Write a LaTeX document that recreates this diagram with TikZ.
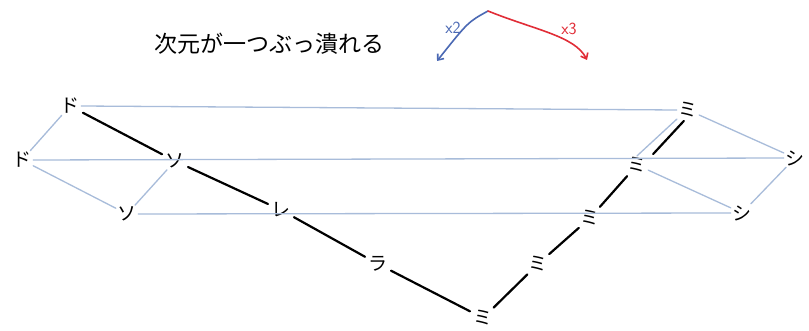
\documentclass[tikz,border=0pt]{standalone}
\usepackage{fontspec}
\newfontfamily\jp{Noto Sans CJK JP}
\usetikzlibrary{arrows.meta}
\definecolor{lineblue}{RGB}{168,188,218}
\definecolor{penblue}{RGB}{75,105,180}
\definecolor{penred}{RGB}{225,45,55}
\begin{document}
\begin{tikzpicture}[x=1pt,y=-1pt,
  note/.style={font=\jp\fontsize{19}{19}\selectfont, inner sep=1.5pt},
  proj/.style={draw=lineblue, line width=1.3pt, line cap=round},
  chain/.style={draw=black, line width=2.2pt, line cap=round, shorten >=2pt, shorten <=2pt},
  dashchain/.style={chain, shorten >=15pt, shorten <=15pt},
  legendarrow/.style={line width=1.6pt, line cap=round, -{Straight Barb[length=5pt,width=8pt]}},
  legendlabel/.style={font=\sffamily\fontsize{17}{17}\selectfont, inner sep=1pt}]
\useasboundingbox (0,0) rectangle (809,331);
\fill[white] (0,0) rectangle (809,331);

% title
\node[font=\jp\fontsize{23}{23}\selectfont] (title) at (269,44) {次元が一つぶっ潰れる};

% legend
\coordinate (apex) at (488,11);
\coordinate (x2end) at (437,61);
\coordinate (x3end) at (587,60);
\draw[legendarrow, penblue] (apex) .. controls (468,22) .. (x2end);
\draw[legendarrow, penred] (apex) .. controls (535,30) and (575,36) .. (x3end);
\node[legendlabel, text=penblue] (t2) at (453,28) {x2};
\node[legendlabel, text=penred] (t3) at (569,29) {x3};

% notes
\node[note] (do1) at (70,106) {ド};
\node[note] (do2) at (22,160) {ド};
\node[note] (so1) at (175,161) {ソ};
\node[note] (so2) at (127,214) {ソ};
\node[note] (re)  at (281,210) {レ};
\node[note] (ra)  at (378,264) {ラ};
\node[note] (mi1) at (483,318) {ミ};
\node[note] (mi2) at (538,264) {ミ};
\node[note] (mi3) at (590,218) {ミ};
\node[note] (mi4) at (637,165) {ミ};
\node[note] (mi5) at (688,110) {ミ};
\node[note] (si1) at (795,158) {シ};
\node[note] (si2) at (742,213) {シ};

% projection lines (light blue)
\draw[proj] (do1.east) -- (mi5.west);
\draw[proj] (do2.east) -- (si1.west);
\draw[proj] (so2.east) -- (si2.west);
\draw[proj] (do1) -- (do2);
\draw[proj] (do2) -- (so2);
\draw[proj] (so1) -- (so2);
\draw[proj] (mi4.north) -- (mi5.south west);
\draw[proj] (mi5) -- (si1);
\draw[proj] (mi4) -- (si2);
\draw[proj] (si1) -- (si2);

% chains (black)
\draw[chain] (do1) -- (so1);
\draw[chain] (so1) -- (re);
\draw[chain] (re) -- (ra);
\draw[chain] (ra) -- (mi1);
\draw[dashchain] (mi1.center) -- (mi2.center);
\draw[dashchain] (mi2.center) -- (mi3.center);
\draw[dashchain] (mi3.center) -- (mi4.center);
\draw[dashchain] ([xshift=6pt]mi4.center) -- ([xshift=6pt]mi5.center);
\end{tikzpicture}
\end{document}
